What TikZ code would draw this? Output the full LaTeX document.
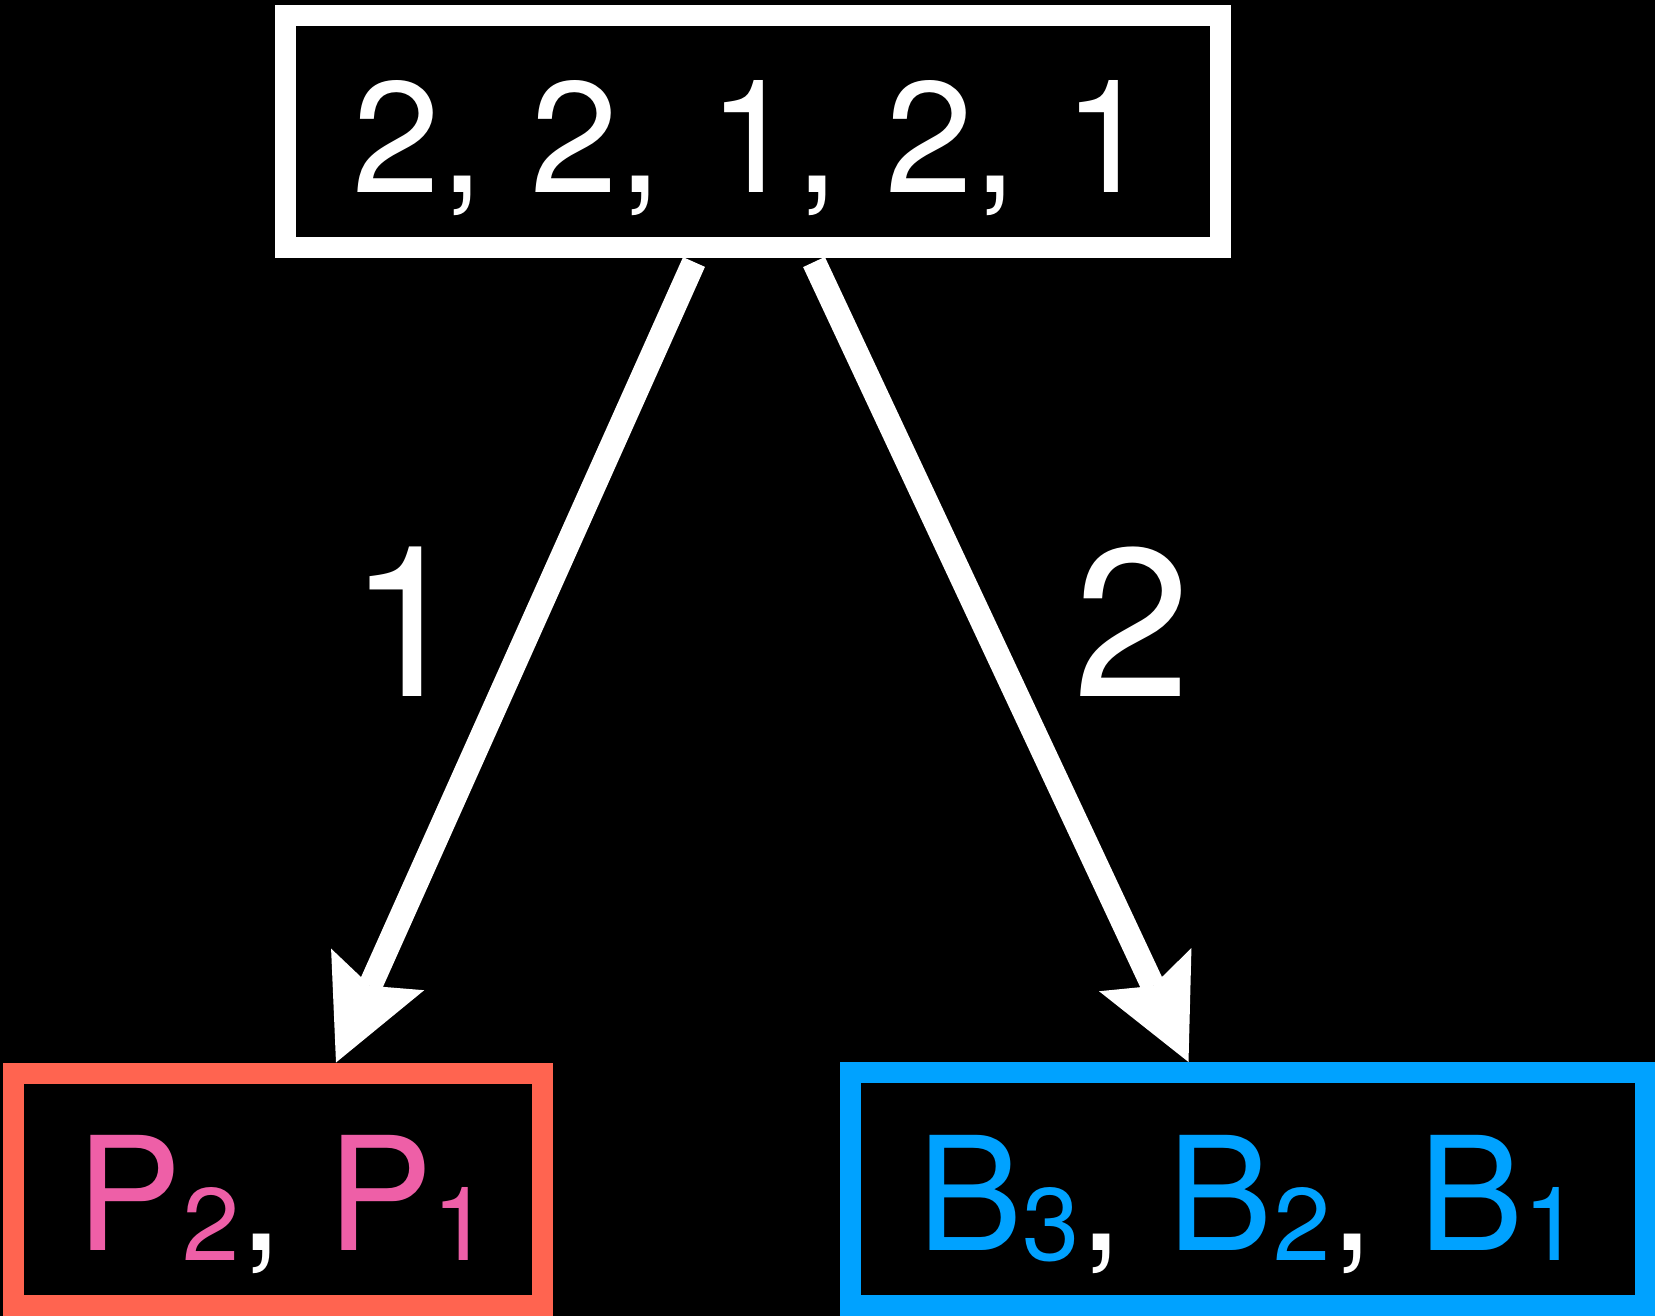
\documentclass[tikz,border=0pt]{standalone}
\usepackage{fontspec}
\setmainfont{TeX Gyre Heros}
\usetikzlibrary{arrows.meta}
\definecolor{salmonc}{RGB}{255,100,80}
\definecolor{bluec}{RGB}{0,162,255}
\definecolor{pinkc}{RGB}{238,95,167}
\newcommand{\subx}[1]{\raisebox{-10pt}{\fontsize{103}{110}\selectfont #1}}
\begin{document}
\begin{tikzpicture}[x=1pt,y=-1pt,
  boxst/.style={draw, line width=21pt, rectangle, inner sep=0pt},
  bigtxt/.style={inner sep=0pt, anchor=base, font=\fontsize{158}{160}\selectfont},
  lbl/.style={inner sep=0pt, anchor=base, text=white, font=\fontsize{211}{215}\selectfont},
  arr/.style={draw=white, line width=24pt, -{Stealth[length=102pt,width=102pt,inset=18pt,line width=0pt]}}]
\fill[black] (0,0) rectangle (1655,1316);
\useasboundingbox (0,0) rectangle (1655,1316);
% boxes
\node[boxst, draw=white, minimum width=935pt, minimum height=232.5pt] (top) at (753,131.75) {};
\node[boxst, draw=salmonc, minimum width=529pt, minimum height=232.5pt] (left) at (278,1189.25) {};
\node[boxst, draw=bluec, minimum width=795pt, minimum height=233pt] (right) at (1247.5,1189) {};
% texts
\node[bigtxt, text=white] (toptxt) at (752,193) {2,\hspace{2pt} 2,\hspace{2pt} 1,\hspace{2pt} 2,\hspace{2pt} 1};
\node[bigtxt] (lefttxt) at (283.5,1250) {\color{pinkc}P\subx{2}\color{white}, \color{pinkc}P\subx{1}};
\node[bigtxt] (righttxt) at (1249,1250) {\color{bluec}B\subx{3}\color{white}, \color{bluec}B\subx{2}\color{white}, \color{bluec}B\subx{1}};
% connector ends
\coordinate (s1) at ([xshift=-59pt,yshift=-3.5pt]top.south);
\coordinate (s2) at ([xshift=61pt,yshift=-3.5pt]top.south);
\coordinate (t1) at ([xshift=58pt]left.north);
\coordinate (t2) at ([xshift=-59pt]right.north);
\draw[arr] (s1) -- (t1);
\draw[arr] (s2) -- (t2);
% labels
\node[lbl] (l1) at (407,696) {1};
\node[lbl] (l2) at (1132,696) {2};
\end{tikzpicture}
\end{document}
